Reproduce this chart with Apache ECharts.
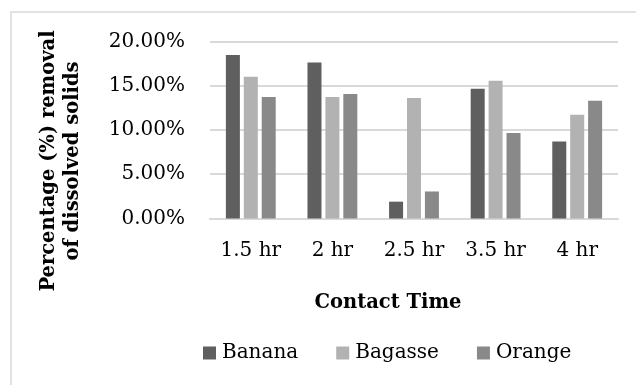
<!DOCTYPE html>
<html>
<head>
<meta charset="utf-8">
<script src="https://cdn.jsdelivr.net/npm/echarts@6/dist/echarts.min.js"></script>
<style>
html,body{margin:0;padding:0;background:#fff;}
#c{width:636px;height:385px;}
</style>
</head>
<body>
<div id="c"></div>
<script>
const categories = ['1.5 hr', '2 hr', '2.5 hr', '3.5 hr', '4 hr'];
const seriesNames = ['Banana', 'Bagasse', 'Orange'];
const banana = [18.45, 17.6, 1.9, 14.65, 8.7];
const bagasse = [16.0, 13.7, 13.6, 15.55, 11.7];
const orange = [13.7, 14.05, 3.05, 9.65, 13.3];
const yTicks = [0, 5, 10, 15, 20];
const yTitle = ['Percentage (%) removal', 'of dissolved solids'];
const xTitle = 'Contact Time';

const colors = ['#5f5f5f', '#b2b2b2', '#898989'];
const font = 'DejaVu Serif';
const chart = echarts.init(document.getElementById('c'), null, {renderer: 'canvas'});
const data = [banana, bagasse, orange];
chart.setOption({
  animation: false,
  color: colors,
  grid: {left: 210, right: 18, top: 41.3, bottom: 166.5, containLabel: false},
  legend: {
    data: seriesNames, left: 203, top: 343, padding: 0, itemWidth: 13, itemHeight: 13, itemGap: 38,
    icon: 'rect',
    textStyle: {fontFamily: font, fontSize: 20, color: '#000', padding: [0, 0, 0, 1]}
  },
  xAxis: {
    type: 'category', data: categories,
    axisLine: {lineStyle: {color: '#d9d9d9', width: 2}},
    axisTick: {show: false},
    axisLabel: {fontFamily: font, fontSize: 20, color: '#000', margin: 22}
  },
  yAxis: {
    type: 'value', min: yTicks[0], max: yTicks[yTicks.length - 1], interval: 5,
    axisLine: {show: false}, axisTick: {show: false},
    splitLine: {lineStyle: {color: '#d9d9d9', width: 2}},
    axisLabel: {fontFamily: font, fontSize: 20, color: '#000', margin: 25,
      formatter: v => v.toFixed(2) + '%'}
  },
  series: seriesNames.map((n, i) => ({
    name: n, type: 'bar', data: data[i], barWidth: 14, barGap: '28%'
  })),
  graphic: [
    {type: 'rect', shape: {x: 11, y: 12, width: 800, height: 600}, style: {fill: 'none', stroke: '#d9d9d9', lineWidth: 1.5}, silent: true},
    {type: 'text', x: 48.5, y: 161, rotation: Math.PI / 2,
      style: {text: yTitle[0], font: 'bold 19.5px "DejaVu Serif"', fill: '#000', textAlign: 'center', textVerticalAlign: 'middle'}},
    {type: 'text', x: 73, y: 161, rotation: Math.PI / 2,
      style: {text: yTitle[1], font: 'bold 19.5px "DejaVu Serif"', fill: '#000', textAlign: 'center', textVerticalAlign: 'middle'}},
    {type: 'text', x: 388, y: 303,
      style: {text: xTitle, font: 'bold 19.5px "DejaVu Serif"', fill: '#000', textAlign: 'center', textVerticalAlign: 'middle'}}
  ]
});
</script>
</body>
</html>
